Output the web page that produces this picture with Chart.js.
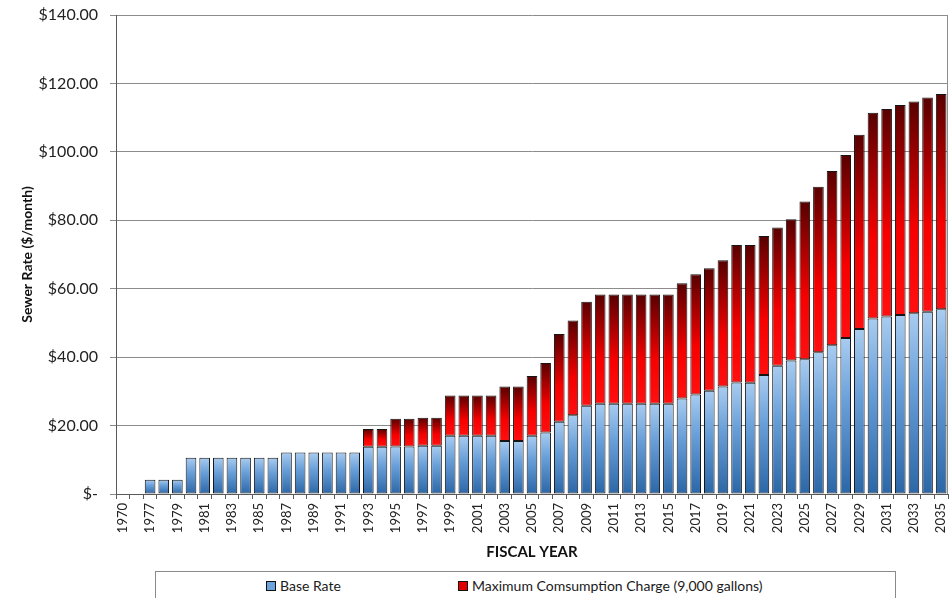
<!DOCTYPE html>
<html>
<head>
<meta charset="utf-8">
<title>Sewer Rate</title>
<script src="https://cdn.jsdelivr.net/npm/chart.js@4.4.1/dist/chart.umd.min.js"></script>
<style>
    html, body { margin: 0; padding: 0; background: #fff; }
    #wrap { position: relative; width: 950px; height: 598px; overflow: hidden; }
    #legend {
        position: absolute; left: 155px; top: 571px; width: 739px; height: 40px;
        border: 1px solid #8a8a8a; background: #fff;
        font-family: Lato, sans-serif; font-size: 14px; color: #1a1a1a;
    }
    .item { position: absolute; top: 5px; display: flex; align-items: center; white-space: nowrap; }
    .swatch { width: 8px; height: 8px; border: 1px solid #111; margin-right: 4px; }
</style>
</head>
<body>
<div id="wrap">
    <canvas id="sewer-chart" width="950" height="598"></canvas>
    <div id="legend">
        <div class="item" style="left:110px"><span class="swatch" style="background:#6fa3db"></span>Base Rate</div>
        <div class="item" style="left:302px"><span class="swatch" style="background:#e00000"></span>Maximum Comsumption Charge (9,000 gallons)</div>
    </div>
</div>
<script>
// fiscal years (second slot is an unlabeled empty year)
const years = ['1970', '1976'];
for (let y = 1977; y <= 2035; y++) years.push(String(y));

// base rate, $/month
const baseRate = [
    null, null,
    4.2, 4.2, 4.2,                                   // 1977-1979
    10.6, 10.6, 10.6, 10.6, 10.6, 10.6, 10.6,        // 1980-1986
    12.1, 12.1, 12.1, 12.1, 12.1, 12.1,              // 1987-1992
    13.8, 13.8, 13.9, 13.9, 14.1, 14.1,              // 1993-1998
    17.0, 17.0, 17.0, 17.0,                          // 1999-2002
    15.5, 15.5, 17.0, 18.0, 21.1, 23.0, 25.8,        // 2003-2009
    26.4, 26.4, 26.4, 26.4, 26.4, 26.4,              // 2010-2015
    27.9, 29.1, 30.2, 31.4, 32.6, 32.5, 34.8,        // 2016-2022
    37.5, 39.0, 39.4, 41.4, 43.5, 45.6, 48.2,        // 2023-2029
    51.3, 51.9, 52.3, 52.8, 53.3, 54.0               // 2030-2035
];

// maximum consumption charge (9,000 gallons), $/month
const consumption = [
    null, null,
    null, null, null,
    null, null, null, null, null, null, null,
    null, null, null, null, null, null,
    5.2, 5.2, 8.1, 8.1, 8.2, 8.2,                    // 1993-1998
    11.8, 11.8, 11.8, 11.8,                          // 1999-2002
    15.9, 15.9, 17.5, 20.3, 25.7, 27.7, 30.4,        // 2003-2009
    31.9, 31.9, 31.9, 31.9, 31.9, 31.9,              // 2010-2015
    33.7, 35.1, 35.8, 36.9, 40.2, 40.3, 40.6,        // 2016-2022
    40.4, 41.3, 46.1, 48.4, 50.9, 53.5, 56.8,        // 2023-2029
    60.1, 60.6, 61.4, 61.9, 62.6, 62.9               // 2030-2035
];

const yTicks = [0, 20, 40, 60, 80, 100, 120, 140];

const FONT = 'Lato, sans-serif';
const BLUE_STOPS = [[0, '#a9ccf0'], [0.4, '#6aa0d9'], [1, '#2b66a6']];
const RED_STOPS = [[0, '#580000'], [0.6, '#f60000'], [1, '#ff1010']];

// vertical gradient spanning each bar segment
function segmentFill(context, stops) {
    const chart = context.chart;
    if (context.type !== 'data' || !chart.chartArea || context.raw == null) return stops[1][1];
    const y = chart.scales.y;
    const i = context.dataIndex;
    const lo = context.datasetIndex === 0 ? 0 : (baseRate[i] || 0);
    const hi = lo + context.raw;
    const top = y.getPixelForValue(hi);
    const bottom = y.getPixelForValue(lo);
    if (!(bottom > top)) return stops[1][1];
    const g = chart.ctx.createLinearGradient(0, top, 0, bottom);
    stops.forEach(([p, c]) => g.addColorStop(p, c));
    return g;
}

const plotBorder = {
    id: 'plotBorder',
    afterDraw(chart) {
        const { ctx, chartArea: a } = chart;
        ctx.save();
        ctx.strokeStyle = '#8c8c8c';
        ctx.lineWidth = 1;
        ctx.beginPath();
        ctx.moveTo(a.right - 0.5, a.top);
        ctx.lineTo(a.right - 0.5, a.bottom);
        ctx.stroke();
        ctx.restore();
    }
};

new Chart(document.getElementById('sewer-chart'), {
    type: 'bar',
    data: {
        labels: years,
        datasets: [
            {
                label: 'Base Rate',
                data: baseRate,
                backgroundColor: c => segmentFill(c, BLUE_STOPS),
                borderColor: '#151515',
                borderWidth: 1,
                borderSkipped: false,
                barPercentage: 0.78,
                categoryPercentage: 1.0,
            },
            {
                label: 'Maximum Comsumption Charge (9,000 gallons)',
                data: consumption,
                backgroundColor: c => segmentFill(c, RED_STOPS),
                borderColor: '#151515',
                borderWidth: 1,
                borderSkipped: false,
                barPercentage: 0.78,
                categoryPercentage: 1.0,
            },
        ],
    },
    plugins: [plotBorder],
    options: {
        responsive: false,
        animation: false,
        layout: { padding: { top: 15, right: 2, bottom: 33, left: 0 } },
        plugins: {
            legend: { display: false },
            tooltip: { enabled: false },
        },
        scales: {
            x: {
                stacked: true,
                grid: {
                    offset: true,
                    drawOnChartArea: false,
                    color: '#5a5a5a',
                    tickLength: 5,
                },
                border: { color: '#5a5a5a', width: 1 },
                ticks: {
                    autoSkip: false,
                    maxRotation: 90,
                    minRotation: 90,
                    padding: 4,
                    color: '#222',
                    font: { family: FONT, size: 13 },
                    callback: (v, i) => (i % 2 === 0 ? years[i] : ''),
                },
                title: {
                    display: true,
                    text: 'FISCAL YEAR',
                    color: '#111',
                    font: { family: FONT, size: 15, weight: 'bold' },
                    padding: { top: 0, bottom: 4 },
                },
                afterFit: s => {
                    s.height = 71;
                    s.paddingLeft = 0;
                    s.paddingRight = 0;
                },
            },
            y: {
                stacked: true,
                min: 0,
                max: 140,
                afterBuildTicks: s => { s.ticks = yTicks.map(v => ({ value: v })); },
                grid: {
                    color: '#8c8c8c',
                    lineWidth: 1,
                    tickLength: 6,
                },
                border: { color: '#5a5a5a', width: 1 },
                ticks: {
                    padding: 12,
                    color: '#222',
                    font: { family: FONT, size: 16 },
                    callback: v => (v === 0 ? '$-' : '$' + v.toFixed(2)),
                },
                title: {
                    display: true,
                    text: 'Sewer Rate ($/month)',
                    color: '#111',
                    font: { family: FONT, size: 14, weight: 'bold' },
                    padding: { top: 19, bottom: 0 },
                },
                afterFit: s => {
                    s.width = 116;
                    s.paddingTop = 0;
                    s.paddingBottom = 0;
                },
            },
        },
    },
});
</script>
</body>
</html>
